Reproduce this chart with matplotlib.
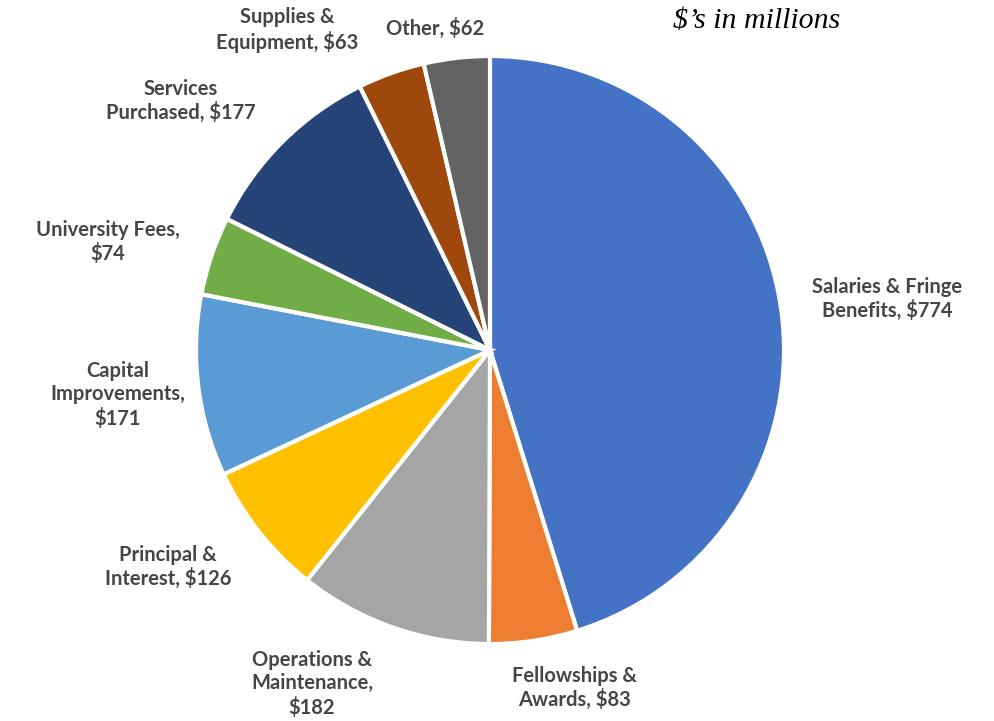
import matplotlib.pyplot as plt

# spending by category, $ millions
categories = ['Salaries & Fringe\nBenefits', 'Fellowships &\nAwards', 'Operations &\nMaintenance,',
              'Principal &\nInterest', 'Capital\nImprovements,', 'University Fees,',
              'Services\nPurchased', 'Supplies &\nEquipment', 'Other']
values = [774, 83, 182, 126, 171, 74, 177, 63, 62]
colors = ['#4472C4', '#ED7D31', '#A5A5A5', '#FFC000', '#5B9BD5',
          '#70AD47', '#264478', '#9E480E', '#636363']

# label centres in pixels (x, y from top)
label_px = [(887, 299), (575, 688), (312, 684), (168, 567), (118, 395),
            (108, 242), (181, 101), (287, 30), (435, 28)]

W, H = 995, 721
cx, cy, r = 490, 350, 294

fig = plt.figure(figsize=(W / 100, H / 100), dpi=100)
ax = fig.add_axes([(cx - r) / W, (H - cy - r) / H, 2 * r / W, 2 * r / H])
ax.pie(values, colors=colors, startangle=90, counterclock=False, radius=1,
       wedgeprops=dict(edgecolor='white', linewidth=3))
ax.set_xlim(-1, 1)
ax.set_ylim(-1, 1)
ax.set_aspect('equal')

for cat, val, (px, py) in zip(categories, values, label_px):
    if cat.endswith(','):
        txt = cat + '\n$' + str(val)
    else:
        txt = cat + ', $' + str(val)
    ax.text((px - cx) / r, (cy - py) / r, txt, ha='center', va='center',
            fontsize=14.5, fontweight='bold', color='#454545',
            family='Lato', linespacing=1.2)

fig.text(757 / W, 1 - 21 / H, "$\u2019s in millions", ha='center', va='center',
         fontsize=21.5, style='italic', family='Liberation Serif', color='black')

plt.savefig('out.png', dpi=100)
